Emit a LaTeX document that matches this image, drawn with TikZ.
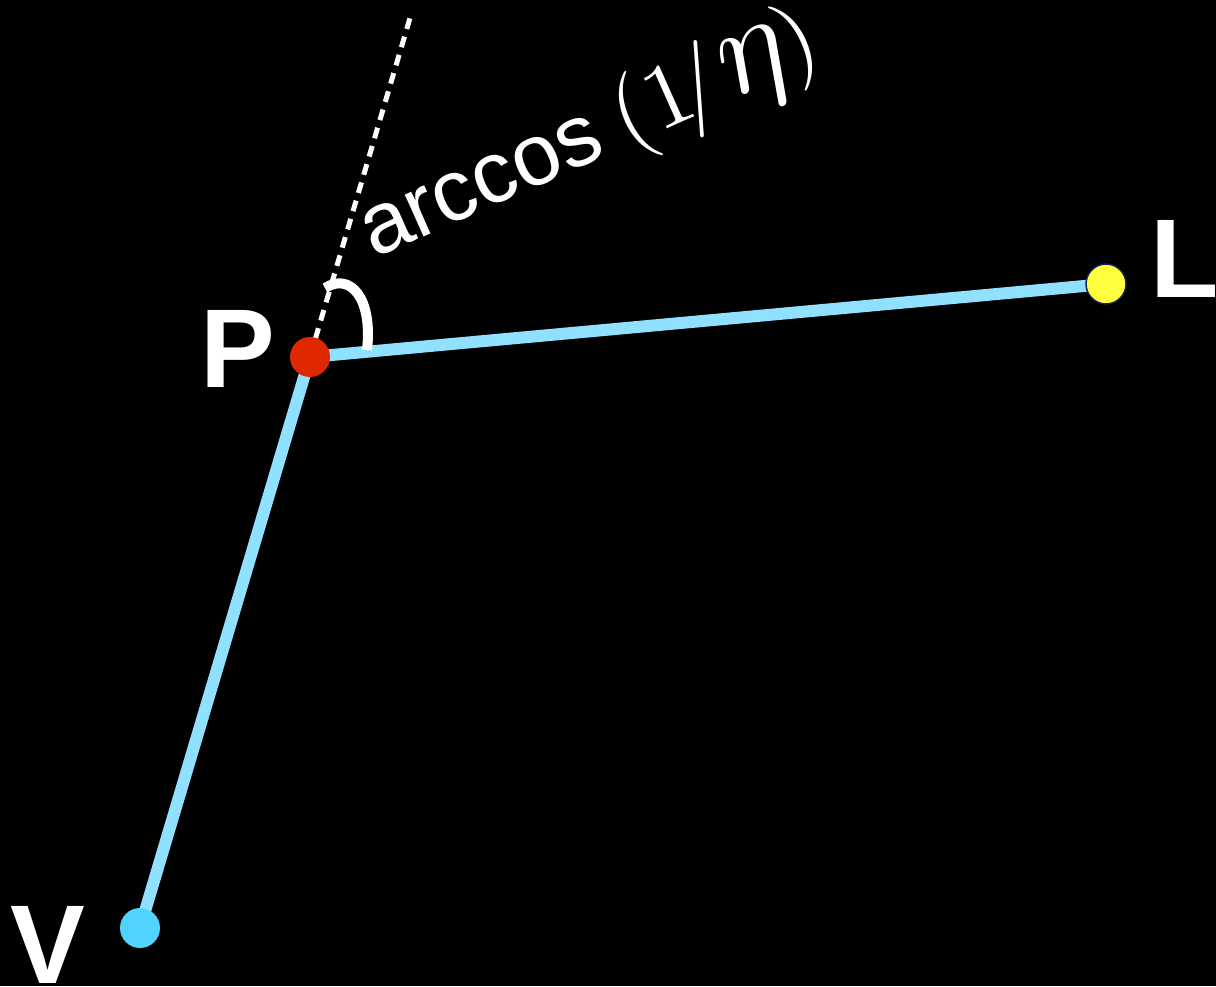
\documentclass[tikz,border=0pt]{standalone}
\usepackage{fontspec}
\newfontfamily\hel{Liberation Sans}
\definecolor{lineblue}{HTML}{90E0FF}
\definecolor{pred}{HTML}{E02800}
\definecolor{lyellow}{HTML}{FFFF40}
\definecolor{lborder}{HTML}{102050}
\definecolor{vblue}{HTML}{50D4FF}
\tikzset{
  dot/.style={circle, inner sep=0pt, minimum size=40pt},
  segline/.style={line width=12pt, draw=lineblue},
  letter/.style={white, inner sep=0pt, font=\hel\bfseries\fontsize{112}{112}\selectfont}
}
\begin{document}
\begin{tikzpicture}[x=1pt,y=1pt]
\fill[black] (0,0) rectangle (1216,986);
\useasboundingbox (0,0) rectangle (1216,986);
\coordinate (P) at (310,629);
\coordinate (L) at (1106,702);
\coordinate (V) at (140,58);
\coordinate (D) at (410,968);
\coordinate (A1) at (325,698);
\coordinate (A2) at (367,636);
\draw[white, line width=5pt, dash pattern=on 11pt off 8pt] (P) -- (D);
\draw[segline] (V) -- (P) -- (L);
\draw[white, line width=10pt] (A1) .. controls (350,714) and (373,688) .. (A2);
\node[dot, fill=pred] (Pd) at (P) {};
\node[dot, fill=lyellow, draw=lborder, line width=1.5pt] (Ld) at (L) {};
\node[dot, fill=vblue] (Vd) at (V) {};
\node[letter] (Plab) at (238,637) {P};
\node[letter] (Llab) at (1185,727) {L};
\node[letter] (Vlab) at (48,41) {V};
\node[anchor=base west, rotate=24, white, inner sep=0pt, font=\fontsize{87}{87}\selectfont] (T) at (374,727) {\hel arccos\hspace{20pt}{\fontsize{10}{12}\selectfont\scalebox{9.2}{$(1\mkern-3mu/\mkern1mu\scalebox{1.4}{$\eta$}\mkern-1mu)$}}};
\end{tikzpicture}
\end{document}
